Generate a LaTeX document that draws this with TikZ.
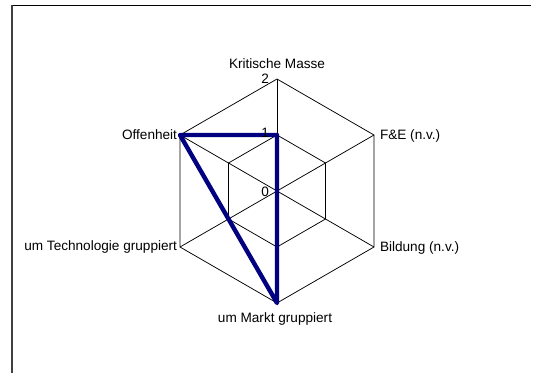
\documentclass[tikz,border=0pt]{standalone}
\usepackage{fontspec}
\setmainfont{Liberation Sans}
\definecolor{navy}{RGB}{0,0,128}
\definecolor{framegray}{RGB}{64,64,64}
\begin{document}
\begin{tikzpicture}[x=1pt,y=-1pt,
  font=\fontsize{13.6}{16}\selectfont,
  gridline/.style={black, line width=0.75pt},
  series/.style={navy, line width=4.4pt, line join=round, line cap=round},
  lbl/.style={inner sep=0pt, outer sep=0pt}]
\useasboundingbox (0,0) rectangle (540,373);
\fill[white] (0,0) rectangle (540,373);
% frame
\coordinate (frTL) at (12,5.3);
\coordinate (frTR) at (531,5.3);
\coordinate (frBL) at (12,373);
\draw[black, line width=1pt] (frTL) -- (frTR);
\draw[framegray, line width=2pt] (12,4.8) -- (frBL);
% axes coordinates
\coordinate (C) at (277,191);
\coordinate (K2) at (277,79);
\coordinate (F2) at (374,135);
\coordinate (B2) at (374,247);
\coordinate (M2) at (277,303);
\coordinate (T2) at (180,247);
\coordinate (O2) at (180,135);
\coordinate (K1) at (277,135);
\coordinate (F1) at (325.5,163);
\coordinate (B1) at (325.5,219);
\coordinate (M1) at (277,247);
\coordinate (T1) at (228.5,219);
\coordinate (O1) at (228.5,163);
% grid
\draw[gridline] (K2) -- (F2) -- (B2) -- (M2) -- (T2) -- (O2) -- cycle;
\draw[gridline] (K1) -- (F1) -- (B1) -- (M1) -- (T1) -- (O1) -- cycle;
\foreach \p in {K2,F2,B2,M2,T2,O2} \draw[gridline] (C) -- (\p);
% data series
\draw[series] (K1) -- (C) -- (M2) -- (T1) -- (O2) -- cycle;
% scale numbers
\node[lbl, anchor=base east] (n2) at (269,83) {2};
\node[lbl, anchor=base east] (n1) at (269,137) {1};
\node[lbl, anchor=base east] (n0) at (269,196) {0};
% axis labels
\node[lbl, anchor=base] (lK) at (277,68) {Kritische Masse};
\node[lbl, anchor=base west] (lF) at (380,139.5) {F\&E (n.v.)};
\node[lbl, anchor=base west] (lB) at (380,251.5) {Bildung (n.v.)};
\node[lbl, anchor=base] (lM) at (275,322.5) {um Markt gruppiert};
\node[lbl, anchor=base east] (lT) at (177,250.5) {um Technologie gruppiert};
\node[lbl, anchor=base east] (lO) at (177,139) {Offenheit};
\end{tikzpicture}
\end{document}
